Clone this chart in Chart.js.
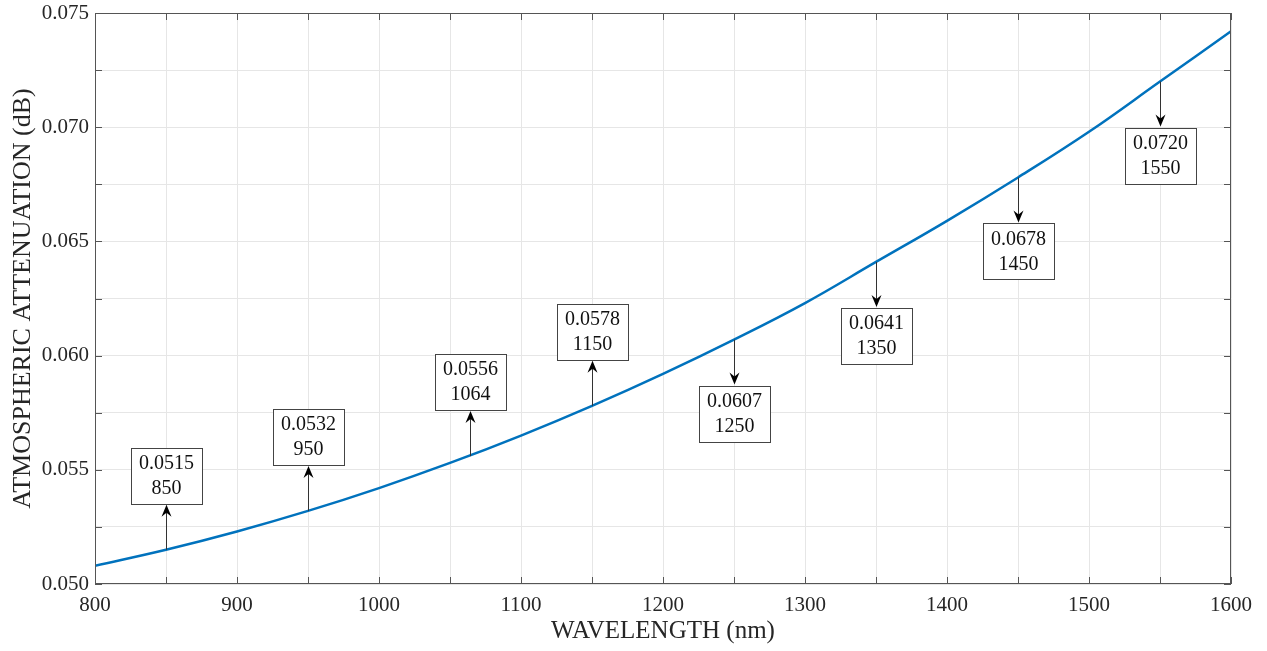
<!DOCTYPE html>
<html>
<head>
<meta charset="utf-8">
<script src="https://cdn.jsdelivr.net/npm/chart.js@4.4.1/dist/chart.umd.min.js"></script>
<style>
  html, body { margin: 0; padding: 0; background: #fff; }
  #wrap { width: 1267px; height: 651px; }
</style>
</head>
<body>
<div id="wrap"><canvas id="chart" width="1267" height="651"></canvas></div>
<script>
// curve
const wavelengths = [800, 850, 900, 950, 1000, 1050, 1100, 1150, 1200, 1250, 1300, 1350, 1400, 1450, 1500, 1550, 1600];
const attenuation = [0.0508, 0.0515, 0.0523, 0.0532, 0.0542, 0.0553, 0.0565, 0.0578, 0.0592, 0.0607, 0.0623, 0.0641, 0.0659, 0.0678, 0.0698, 0.0720, 0.0742];

// data tips
const tipX = [850, 950, 1064, 1150, 1250, 1350, 1450, 1550];
const tipY = [0.0515, 0.0532, 0.0556, 0.0578, 0.0607, 0.0641, 0.0678, 0.0720];
const tipUp = [true, true, true, true, false, false, false, false];

const SERIF = '"Liberation Serif", "DejaVu Serif", serif';
const AXIS_COLOR = '#555555';

function drawArrowHead(ctx, x, y, dir) {
  // dir: -1 points up, 1 points down
  ctx.beginPath();
  ctx.moveTo(x, y);
  ctx.lineTo(x - 5, y - dir * 12);
  ctx.lineTo(x, y - dir * 8);
  ctx.lineTo(x + 5, y - dir * 12);
  ctx.closePath();
  ctx.fill();
}

const framePlugin = {
  id: 'frame',
  afterDraw(chart) {
    const { ctx, chartArea: a, scales } = chart;
    ctx.save();
    ctx.strokeStyle = AXIS_COLOR;
    ctx.lineWidth = 1;
    ctx.strokeRect(a.left + 0.5, a.top + 0.5, a.right - a.left - 1, a.bottom - a.top - 1);
    ctx.beginPath();
    scales.x.ticks.forEach((t) => {
      const px = Math.round(scales.x.getPixelForValue(t.value)) + 0.5;
      ctx.moveTo(px, a.bottom); ctx.lineTo(px, a.bottom - 7);
      ctx.moveTo(px, a.top); ctx.lineTo(px, a.top + 7);
    });
    scales.y.ticks.forEach((t) => {
      const py = Math.round(scales.y.getPixelForValue(t.value)) + 0.5;
      ctx.moveTo(a.left, py); ctx.lineTo(a.left + 7, py);
      ctx.moveTo(a.right, py); ctx.lineTo(a.right - 7, py);
    });
    ctx.stroke();
    ctx.restore();
  },
};

const tipPlugin = {
  id: 'tips',
  afterDatasetsDraw(chart) {
    const { ctx, scales } = chart;
    ctx.save();
    ctx.font = '20px ' + SERIF;
    ctx.textAlign = 'center';
    ctx.textBaseline = 'middle';
    tipX.forEach((xv, i) => {
      const px = Math.round(scales.x.getPixelForValue(xv)) + 0.5;
      const py = scales.y.getPixelForValue(tipY[i]);
      const dir = tipUp[i] ? -1 : 1;
      const end = py + dir * 46;
      const l1 = tipY[i].toFixed(4);
      const l2 = String(xv);
      const w = Math.max(ctx.measureText(l1).width, ctx.measureText(l2).width) + 16;
      const h = 56;
      const top = tipUp[i] ? end - h : end;

      ctx.strokeStyle = '#333333';
      ctx.fillStyle = '#000000';
      ctx.lineWidth = 1;
      ctx.beginPath();
      ctx.moveTo(px, py);
      ctx.lineTo(px, end - dir * 4);
      ctx.stroke();
      drawArrowHead(ctx, px, end - dir * 1, dir);

      ctx.fillStyle = '#ffffff';
      ctx.fillRect(Math.round(px - w / 2), Math.round(top), Math.round(w), h);
      ctx.strokeStyle = '#444444';
      ctx.strokeRect(Math.round(px - w / 2) + 0.5, Math.round(top) + 0.5, Math.round(w), h);

      ctx.fillStyle = '#111111';
      ctx.fillText(l1, px, top + 16);
      ctx.fillText(l2, px, top + 41);
    });
    ctx.restore();
  },
};

const ctx = document.getElementById('chart').getContext('2d');
new Chart(ctx, {
  type: 'line',
  data: {
    datasets: [
      {
        data: wavelengths.map((w, i) => ({ x: w, y: attenuation[i] })),
        borderColor: '#0072BD',
        borderWidth: 2.5,
        pointRadius: 0,
        tension: 0.4,
        fill: false,
      },
    ],
  },
  options: {
    responsive: false,
    animation: false,
    layout: { padding: { top: 13, right: 36, left: 0, bottom: 0 } },
    plugins: {
      legend: { display: false },
      tooltip: { enabled: false },
    },
    scales: {
      x: {
        type: 'linear',
        min: 800,
        max: 1600,
        afterFit: (s) => {
          s.height = 67;
          s.paddingLeft = 0;
          s.paddingRight = 0;
        },
        ticks: {
          stepSize: 50,
          autoSkip: false,
          maxRotation: 0,
          padding: 9,
          color: '#262626',
          font: { family: SERIF, size: 21 },
          callback: (v) => (v % 100 === 0 ? String(v) : ''),
        },
        grid: { color: '#e6e6e6', drawTicks: false },
        border: { display: false },
        title: {
          display: true,
          text: 'WAVELENGTH (nm)',
          color: '#262626',
          font: { family: SERIF, size: 25 },
          padding: { top: 0, bottom: 5 },
        },
      },
      y: {
        type: 'linear',
        min: 0.05,
        max: 0.075,
        afterFit: (s) => {
          s.width = 95;
          s.paddingTop = 0;
          s.paddingBottom = 0;
        },
        ticks: {
          stepSize: 0.0025,
          autoSkip: false,
          padding: 6,
          color: '#262626',
          font: { family: SERIF, size: 21 },
          callback: (v) => (Math.round(v * 10000) % 50 === 0 ? v.toFixed(3) : ''),
        },
        grid: { color: '#e6e6e6', drawTicks: false },
        border: { display: false },
        title: {
          display: true,
          text: 'ATMOSPHERIC ATTENUATION (dB)',
          color: '#262626',
          font: { family: SERIF, size: 26 },
          padding: { top: 8, bottom: 0 },
        },
      },
    },
  },
  plugins: [framePlugin, tipPlugin],
});
</script>
</body>
</html>
